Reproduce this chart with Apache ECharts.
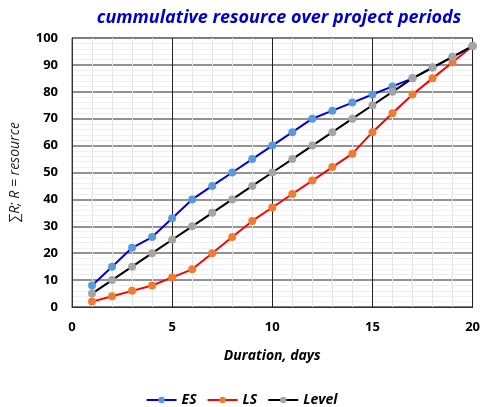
<!DOCTYPE html>
<html><head><meta charset="utf-8">
<script src="https://cdn.jsdelivr.net/npm/echarts@6/dist/echarts.min.js"></script>
<style>html,body{margin:0;padding:0;background:#fff}#c{width:483px;height:407px}</style>
</head><body><div id="c"></div>
<script>
const days = [1,2,3,4,5,6,7,8,9,10,11,12,13,14,15,16,17,18,19,20];
const esValues = [8,15,22,26,33,40,45,50,55,60,65,70,73,76,79,82,85,89,93,97];
const lsValues = [2,4,6,8,11,14,20,26,32,37,42,47,52,57,65,72,79,85,91,97];
const levelValues = [5,10,15,20,25,30,35,40,45,50,55,60,65,70,75,80,85,89,93,97];
const seriesNames = ['ES','LS','Level'];
const titleText = 'cummulative resource over project periods';
const xName = 'Duration, days';
const yName = '\u2211R; R = resource';

const font = 'Open Sans';
const pairs = v => days.map((d,i)=>[d,v[i]]);
const mk = (name, data, line, marker) => ({
  name, type:'line', data: pairs(data), symbol:'circle', symbolSize:8,
  lineStyle:{color:line,width:2}, itemStyle:{color:marker}, z: 2
});
const chart = echarts.init(document.getElementById('c'));
chart.setOption({
  animation:false,
  title:{text:titleText, left:274, textAlign:'center', top:4,
    textStyle:{color:'#0000CC', fontStyle:'italic', fontWeight:'bold', fontSize:18, fontFamily:font}},
  grid:{left:72,right:9,top:38,bottom:100,show:true,borderColor:'#555',borderWidth:1},
  legend:{top:388,left:'center',itemWidth:30,itemHeight:8,itemGap:10,
    textStyle:{fontStyle:'italic',fontWeight:'bold',fontSize:14,fontFamily:font,color:'#000'}},
  xAxis:{type:'value',min:0,max:20,interval:5,name:xName,nameLocation:'middle',nameGap:42,
    nameTextStyle:{fontStyle:'italic',fontWeight:'bold',fontSize:14,fontFamily:font,color:'#000'},
    axisLine:{show:true,lineStyle:{color:'#333'}},axisTick:{show:false},
    axisLabel:{margin:14,fontWeight:'bold',fontSize:13,fontFamily:font,color:'#000'},
    splitLine:{show:true,lineStyle:{color:'#222',width:1}},
    minorTick:{show:false,splitNumber:5},
    minorSplitLine:{show:true,lineStyle:{color:'#e4e4e4',width:1}}},
  yAxis:{type:'value',min:0,max:100,interval:10,name:yName,nameLocation:'middle',nameGap:50,
    nameMoveOverlap:false,
    nameTextStyle:{fontStyle:'italic',fontSize:14,fontFamily:font,color:'#222'},
    axisLine:{show:true,lineStyle:{color:'#333'}},axisTick:{show:false},
    axisLabel:{margin:14,fontWeight:'bold',fontSize:13,fontFamily:font,color:'#000'},
    splitLine:{show:true,lineStyle:{color:'#6e6e6e',width:1.5}},
    minorTick:{show:false,splitNumber:5},
    minorSplitLine:{show:true,lineStyle:{color:'#f0f0f0',width:1}}},
  series:[
    mk(seriesNames[0], esValues, '#0000DD', '#5B9BD5'),
    mk(seriesNames[1], lsValues, '#FF0000', '#ED7D31'),
    mk(seriesNames[2], levelValues, '#000000', '#A5A5A5')
  ]
});
</script></body></html>
